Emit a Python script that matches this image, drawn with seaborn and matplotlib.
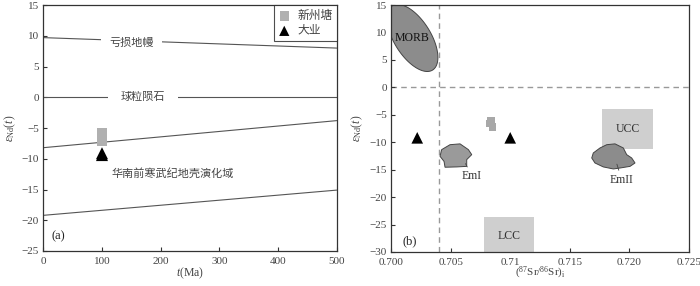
import numpy as np
import matplotlib
matplotlib.use("Agg")
import matplotlib.pyplot as plt
import seaborn as sns

# ---- data ----
# (a) eNd(t) vs t
evol_t = [0, 500]
dm_end = [9.7, 8.0]           # depleted mantle
chur_end = [0.0, 0.0]         # chondrite
crust_top = [-8.2, -3.8]      # upper bound of S China Precambrian crust
crust_bot = [-19.2, -15.1]    # lower bound

xzt_age = [100, 100, 100]
xzt_end = [-5.9, -6.5, -7.1]
dy_age = [100, 100]
dy_end = [-9.1, -9.4]

# (b) eNd(t) vs (87Sr/86Sr)i
xzt_sr = [0.7084, 0.7083, 0.7085]
xzt_end_b = [-6.0, -6.6, -7.2]
dy_sr = [0.7022, 0.7100]
dy_end_b = [-9.2, -9.2]

morb_center = (0.70180, 9.0)
morb_major = (0.00165, -5.9)
morb_minor = (0.00135, 1.6)
emi_x = [0.70425, 0.70495, 0.70579, 0.70649, 0.70677, 0.70635, 0.70635, 0.70551, 0.70453, 0.70445, 0.70411]
emi_y = [-11.35, -10.45, -10.3, -11.35, -12.26, -13.17, -14.4, -14.5, -14.56, -13.5, -12.56]
emii_x = [0.71697, 0.71753, 0.71810, 0.71879, 0.71949, 0.71977, 0.72019, 0.72047, 0.72005, 0.71921, 0.71865, 0.71781, 0.71711, 0.71684]
emii_y = [-11.96, -11.05, -10.45, -10.3, -11.05, -12.26, -12.87, -13.78, -14.4, -14.7, -14.87, -14.5, -13.78, -12.87]
ucc_box = (0.7177, 0.7220, -11.2, -4.0)
lcc_box = (0.7078, 0.7120, -30.0, -23.6)

sr_ticks = [0.700, 0.705, 0.710, 0.715, 0.720, 0.725]
sr_labels = ["0.700", "0.705", "0.71", "0.715", "0.720", "0.725"]

sns.set_theme(style="ticks")
plt.rcParams["font.family"] = ["Liberation Serif", "Noto Sans CJK SC"]
plt.rcParams["mathtext.fontset"] = "custom"
plt.rcParams["mathtext.rm"] = "Liberation Serif"
plt.rcParams["mathtext.it"] = "Liberation Serif:italic"
plt.rcParams["axes.edgecolor"] = "#333333"
plt.rcParams["axes.linewidth"] = 0.9

cjk = ["Noto Sans CJK SC", "DejaVu Sans"]
line_c = "#555555"
txt_c = "#444444"

fig = plt.figure(figsize=(7, 2.86), dpi=100)
ax1 = fig.add_axes([0.0619, 0.1224, 0.419, 0.860])
ax2 = fig.add_axes([0.5586, 0.1189, 0.4257, 0.8636])

# ---- panel (a) ----
for ys in (dm_end, chur_end, crust_top, crust_bot):
    sns.lineplot(x=evol_t, y=ys, ax=ax1, color=line_c, lw=0.8, legend=False)

box = dict(facecolor="white", edgecolor="none", pad=6)
ax1.text(151, 8.9, "亏损地幔", family=cjk, fontsize=8, color=txt_c, ha="center", va="center", bbox=box)
ax1.text(170, 0, "球粒陨石", family=cjk, fontsize=8, color=txt_c, ha="center", va="center",
         bbox=dict(facecolor="white", edgecolor="none", pad=9))
ax1.text(221, -12.4, "华南前寒武纪地壳演化域", family=cjk, fontsize=8, color=txt_c, ha="center", va="center")

sns.scatterplot(x=xzt_age, y=xzt_end, ax=ax1, marker="s", s=60, color="#b0b0b0",
                edgecolor="none", label="新州塘", zorder=5)
sns.scatterplot(x=dy_age, y=dy_end, ax=ax1, marker="^", s=75, color="black",
                edgecolor="none", label="大业", zorder=6)
leg = ax1.legend(loc="upper right", prop={"family": cjk, "size": 8.5}, frameon=True, fancybox=False,
                 handletextpad=0.6, borderpad=0.35, labelspacing=0.15, handlelength=1.0,
                 borderaxespad=0.0, markerscale=0.85)
leg.get_frame().set_edgecolor("#222222")
leg.get_frame().set_linewidth(0.8)
for t in leg.get_texts():
    t.set_color(txt_c)

ax1.text(26, -22.6, "(a)", fontsize=9, color="#222222", ha="center", va="center")
ax1.set_xlim(0, 500)
ax1.set_ylim(-25, 15)
ax1.set_xticks([0, 100, 200, 300, 400, 500])
ax1.set_yticks(range(-25, 16, 5))
ax1.set_yticklabels(["\u221225", "\u221220", "\u221215", "\u221210", "\u22125", "0", "5", "10", "15"])
ax1.set_xlabel(r"$t$(Ma)", fontsize=8.5, color=txt_c, labelpad=0)
ax1.set_ylabel(r"$\varepsilon_{\rm Nd}(t)$", fontsize=8.5, color=txt_c, labelpad=3)

# ---- panel (b) ----
tt = np.linspace(0, 2 * np.pi, 200)
mx = morb_center[0] + morb_major[0] * np.cos(tt) + morb_minor[0] * np.sin(tt)
my = morb_center[1] + morb_major[1] * np.cos(tt) + morb_minor[1] * np.sin(tt)
ax2.fill(mx, my, facecolor="#8c8c8c", edgecolor="#444444", lw=0.7, zorder=2)
ax2.fill(emi_x, emi_y, facecolor="#9a9a9a", edgecolor="#444444", lw=0.7, zorder=2)
ax2.fill(emii_x, emii_y, facecolor="#8c8c8c", edgecolor="#444444", lw=0.7, zorder=2)
for x0, x1, y0, y1 in (ucc_box, lcc_box):
    ax2.fill_between([x0, x1], y0, y1, color="#cfcfcf", lw=0, zorder=1)

ax2.axvline(0.704, color="#999999", lw=1, ls=(0, (4, 3)), zorder=0)
ax2.axhline(0, color="#999999", lw=1, ls=(0, (4, 3)), zorder=0)

sns.scatterplot(x=xzt_sr, y=xzt_end_b, ax=ax2, marker="s", s=28, color="#a8a8a8",
                edgecolor="none", zorder=5, legend=False)
sns.scatterplot(x=dy_sr, y=dy_end_b, ax=ax2, marker="^", s=70, color="black",
                edgecolor="none", zorder=6, legend=False)

ax2.text(0.70174, 8.9, "MORB", fontsize=8.5, color="#111111", ha="center", va="center", zorder=3)
ax2.text(0.71985, -7.6, "UCC", fontsize=8.5, color="#333333", ha="center", va="center")
ax2.text(0.7099, -27.0, "LCC", fontsize=8.5, color="#333333", ha="center", va="center")
ax2.annotate("EmI", xy=(0.70625, -13.9), xytext=(0.7068, -16.2), fontsize=8.5, color="#333333",
             ha="center", va="center", arrowprops=dict(arrowstyle="-", color="#444444", lw=0.6,
                                                       shrinkA=5, shrinkB=0))
ax2.annotate("EmII", xy=(0.71895, -14.0), xytext=(0.71935, -16.8), fontsize=8.5, color="#333333",
             ha="center", va="center", arrowprops=dict(arrowstyle="-", color="#444444", lw=0.6,
                                                       shrinkA=5, shrinkB=0))
ax2.text(0.7016, -28.0, "(b)", fontsize=9, color="#222222", ha="center", va="center")

ax2.set_xlim(0.700, 0.725)
ax2.set_ylim(-30, 15)
ax2.set_xticks(sr_ticks)
ax2.set_xticklabels(sr_labels)
ax2.set_yticks(range(-30, 16, 5))
ax2.set_yticklabels(["\u221230", "\u221225", "\u221220", "\u221215", "\u221210", "\u22125", "0", "5", "10", "15"])
ax2.set_xlabel(r"$(^{87}{\rm Sr}/^{86}{\rm Sr})_{\rm i}$", fontsize=8, color=txt_c, labelpad=-1)
ax2.set_ylabel(r"$\varepsilon_{\rm Nd}(t)$", fontsize=8.5, color=txt_c, labelpad=3)

for ax in (ax1, ax2):
    ax.tick_params(direction="in", length=3, width=0.8, labelsize=8, colors="#333333")
    ax.tick_params(axis="x", pad=4)
    ax.tick_params(axis="y", pad=3)
    for lab in ax.get_xticklabels() + ax.get_yticklabels():
        lab.set_color(txt_c)
    ax.set_facecolor("white")

fig.savefig("out.png", dpi=100, facecolor="white")
